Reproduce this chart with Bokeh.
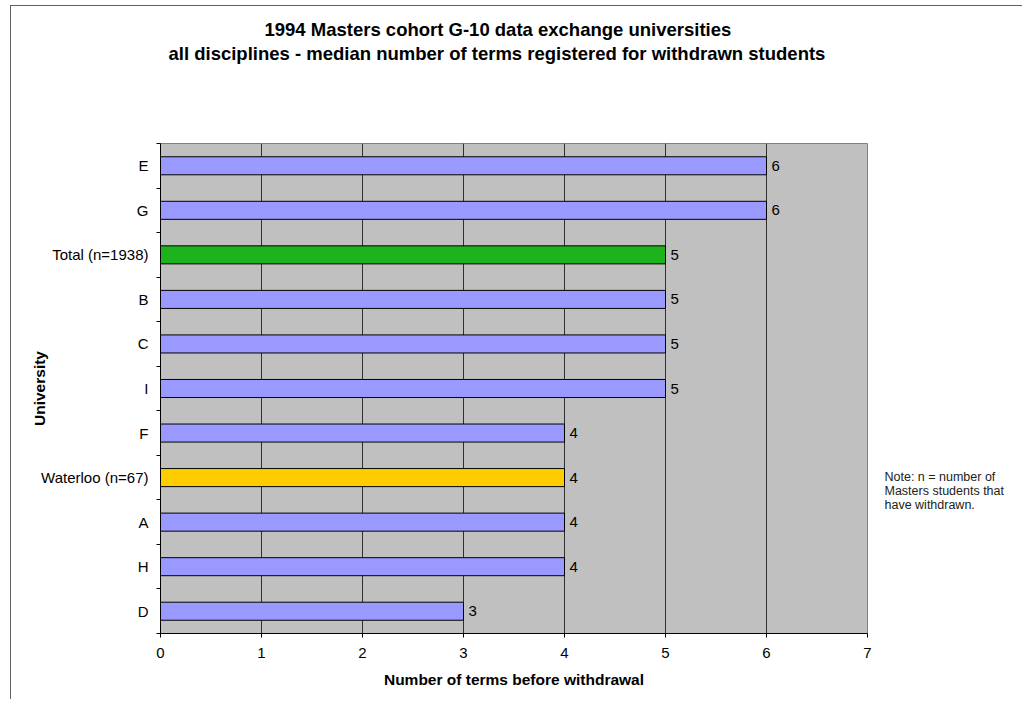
from bokeh.plotting import figure
from bokeh.models import ColumnDataSource, Range1d, FixedTicker, Title, LinearAxis
from bokeh.core.properties import value
from bokeh.embed import file_html
from bokeh.resources import INLINE

# ---- data (top to bottom, as shown) ----
categories = ["E", "G", "Total (n=1938)", "B", "C", "I", "F",
              "Waterloo (n=67)", "A", "H", "D"]
terms = [6, 6, 5, 5, 5, 5, 4, 4, 4, 4, 3]
x_ticks = [0, 1, 2, 3, 4, 5, 6, 7]

title_line1 = "1994 Masters cohort G-10 data exchange universities"
title_line2 = "all disciplines - median number of terms registered for withdrawn students"
note_lines = ["Note:  n = number of", "Masters students that", "have withdrawn."]

FONT = "Liberation Sans"
BLUE, GREEN, GOLD = "#9999FF", "#1DB31D", "#FFCC00"

n = len(categories)
pos = [n - i for i in range(n)]            # E at top
colors = [GREEN if c.startswith("Total") else GOLD if c.startswith("Waterloo") else BLUE
          for c in categories]
src = ColumnDataSource(dict(cat=categories, val=terms, pos=pos, color=colors,
                            lab=[str(v) for v in terms]))

p = figure(width=1012, height=694, output_backend="svg", toolbar_location=None,
           x_range=Range1d(0, 7), y_range=Range1d(0.5, n + 0.5),
           min_border_left=149, min_border_right=156, min_border_top=137,
           min_border_bottom=67)
p.styles = {"border-left": "1px solid #606060", "border-top": "1px solid #606060",
            "margin-left": "10px", "margin-top": "5px"}

p.background_fill_color = "#C0C0C0"
p.border_fill_color = "white"
p.outline_line_color = "#808080"
p.outline_line_width = 1

p.hbar(y="pos", right="val", left=0, height=0.405, fill_color="color",
       line_color="black", line_width=1, source=src)
p.text(x="val", y="pos", text="lab", x_offset=5, text_baseline="middle",
       text_align="left", text_font=value(FONT), text_font_size="15px",
       text_color="black", source=src)

# x axis
xa = p.xaxis[0]
xa.ticker = FixedTicker(ticks=x_ticks)
xa.major_tick_in = 0
xa.major_tick_out = 4
xa.minor_tick_in = 0
xa.minor_tick_out = 0
xa.axis_line_color = "black"
xa.major_tick_line_color = "black"
xa.major_label_text_font = FONT
xa.major_label_text_font_size = "15px"
xa.major_label_text_color = "black"
xa.major_label_standoff = 10
xa.axis_label = "Number of terms before withdrawal"
xa.axis_label_text_font = FONT
xa.axis_label_text_font_size = "15.5px"
xa.axis_label_text_font_style = "bold"
xa.axis_label_text_color = "black"
xa.axis_label_standoff = 10

# y axis: labels at row centres, tick marks at row boundaries
ya = p.yaxis[0]
ya.ticker = FixedTicker(ticks=pos, minor_ticks=[k + 0.5 for k in range(n + 1)])
ya.major_label_overrides = {pp: c for pp, c in zip(pos, categories)}
ya.major_tick_in = 0
ya.major_tick_out = 0
ya.minor_tick_in = 0
ya.minor_tick_out = 4
ya.minor_tick_line_color = "black"
ya.axis_line_color = "black"
ya.major_label_text_font = FONT
ya.major_label_text_font_size = "15px"
ya.major_label_text_color = "black"
ya.major_label_standoff = 8
ya.axis_label = "University"
ya.axis_label_text_font = FONT
ya.axis_label_text_font_size = "15.5px"
ya.axis_label_text_font_style = "bold"
ya.axis_label_text_color = "black"
ya.axis_label_standoff = -10

# grid
p.ygrid.visible = False
p.xgrid.ticker = FixedTicker(ticks=x_ticks[1:-1])
p.xgrid.grid_line_color = "#303030"
p.xgrid.grid_line_width = 1

# title: blank spacer next to the frame, then two lines (later-added sits higher)
title_style = dict(text_font=FONT, text_font_size="18.5px", text_font_style="bold",
                   text_color="black")
p.add_layout(Title(text=" ", align="left", standoff=56, **title_style), "above")
p.add_layout(Title(text=title_line2, align="left", offset=8, standoff=1,
                   **title_style), "above")
p.add_layout(Title(text=title_line1, align="left", offset=104, standoff=1,
                   **title_style), "above")

# note on the right, as a label-only axis on a pixel range (0 = frame bottom)
note_px = [157, 143, 129]
p.extra_y_ranges = {"note": Range1d(0, 490)}
na = LinearAxis(y_range_name="note", ticker=FixedTicker(ticks=note_px),
                major_label_overrides={k: t for k, t in zip(note_px, note_lines)})
na.axis_line_color = None
na.major_tick_line_color = None
na.minor_tick_line_color = None
na.major_label_standoff = 11
na.major_label_text_font = FONT
na.major_label_text_font_size = "12.5px"
na.major_label_text_color = "#222222"
na.major_label_text_align = "left"
p.add_layout(na, "right")

open("out.html", "w").write(file_html(p, INLINE))
